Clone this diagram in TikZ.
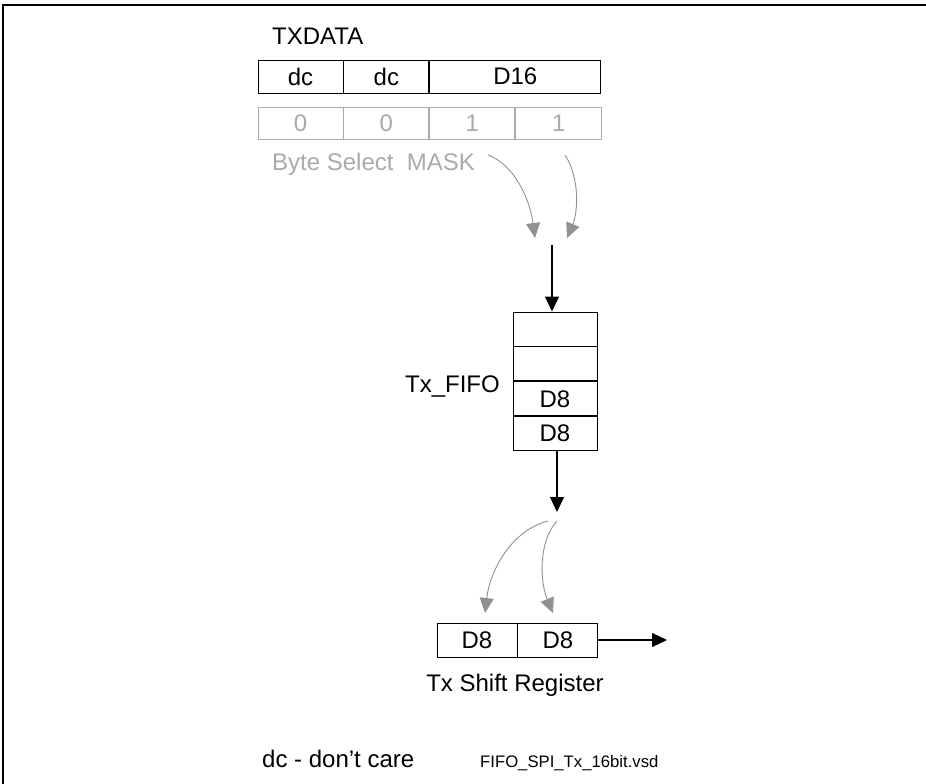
\documentclass[tikz,border=0pt]{standalone}
\usepackage{fontspec}
\setmainfont{Liberation Sans}
\usetikzlibrary{arrows.meta,positioning}
\definecolor{MaskClr}{RGB}{170,170,170}
\definecolor{CurveClr}{RGB}{145,145,145}

\begin{document}
\begin{tikzpicture}[x=1pt,y=-1pt,
  cell/.style={draw,line width=0.9pt,inner sep=0pt,minimum height=33pt,font=\fontsize{24}{28}\selectfont},
  maskcell/.style={cell,draw=MaskClr,text=MaskClr,minimum height=32pt},
  lbl/.style={inner sep=0pt,font=\fontsize{24}{28}\selectfont},
  flow/.style={line width=1.1pt,-{Triangle[length=15pt,width=14pt]}},
  pick/.style={CurveClr,line width=0.9pt,-{Triangle[length=15pt,width=14pt]}}]
\useasboundingbox (0,0) rectangle (926,784);
\draw[line width=1.5pt] (3,784) -- (3,5) -- (926,5);

% TXDATA word
\node[lbl,anchor=base west] (txdata) at (272,45) {TXDATA};
\node[cell,minimum width=85pt] (d1) at (300.5,76.5) {dc};
\node[cell,minimum width=85pt,right=0pt of d1] (d2) {dc};
\node[cell,minimum width=171pt,right=0pt of d2] (d3) {D16};

% byte select mask
\node[maskcell,minimum width=85pt] (m1) at (300.5,123) {0};
\node[maskcell,minimum width=85pt,right=0pt of m1] (m2) {0};
\node[maskcell,minimum width=85pt,right=0pt of m2] (m3) {1};
\node[maskcell,minimum width=86pt,right=0pt of m3] (m4) {1};
\node[lbl,text=MaskClr,anchor=base west] (mask) at (272,170) {Byte Select~~MASK};

\coordinate (a1) at (488,155);
\coordinate (a2) at (565,155);
\coordinate (b1) at (535,238);
\coordinate (b2) at (567,238);
\draw[pick] (a1) .. controls (515,165) and (530,200) .. (b1);
\draw[pick] (a2) .. controls (580,178) and (578,212) .. (b2);

% Tx FIFO
\node[cell,minimum width=84pt,minimum height=34pt] (f1) at (555,329) {};
\node[cell,minimum width=84pt,minimum height=34pt,below=0pt of f1] (f2) {};
\node[cell,minimum width=84pt,minimum height=34pt,below=0pt of f2] (f3) {D8};
\node[cell,minimum width=84pt,minimum height=34pt,below=0pt of f3] (f4) {D8};
\node[lbl,anchor=base east] (fifo) at (500,392) {Tx\_FIFO};

\coordinate (in) at (552,245);
\draw[flow] (in) -- (in |- f1.north);
\coordinate (out) at (557,512);
\draw[flow] (f4.south -| out) -- (out);

\coordinate (c1) at (548,521);
\coordinate (c2) at (557,521);
\coordinate (e1) at (485,613);
\coordinate (e2) at (553,613);
\draw[pick] (c1) .. controls (512,530) and (490,570) .. (e1);
\draw[pick] (c2) .. controls (538,542) and (540,582) .. (e2);

% Tx shift register
\node[cell,minimum width=80pt,minimum height=34pt] (s1) at (477,640) {D8};
\node[cell,minimum width=80pt,minimum height=34pt,right=0pt of s1] (s2) {D8};
\coordinate (sout) at (667,640);
\draw[flow] (s2.east) -- (sout);
\node[lbl,anchor=base] (shift) at (515,691) {Tx Shift Register};

\node[lbl,anchor=base west] (note) at (262,767) {dc - don’t care};
\node[inner sep=0pt,font=\fontsize{16.7}{20}\selectfont,anchor=base west] (fname) at (480,767) {FIFO\_SPI\_Tx\_16bit.vsd};
\end{tikzpicture}
\end{document}
